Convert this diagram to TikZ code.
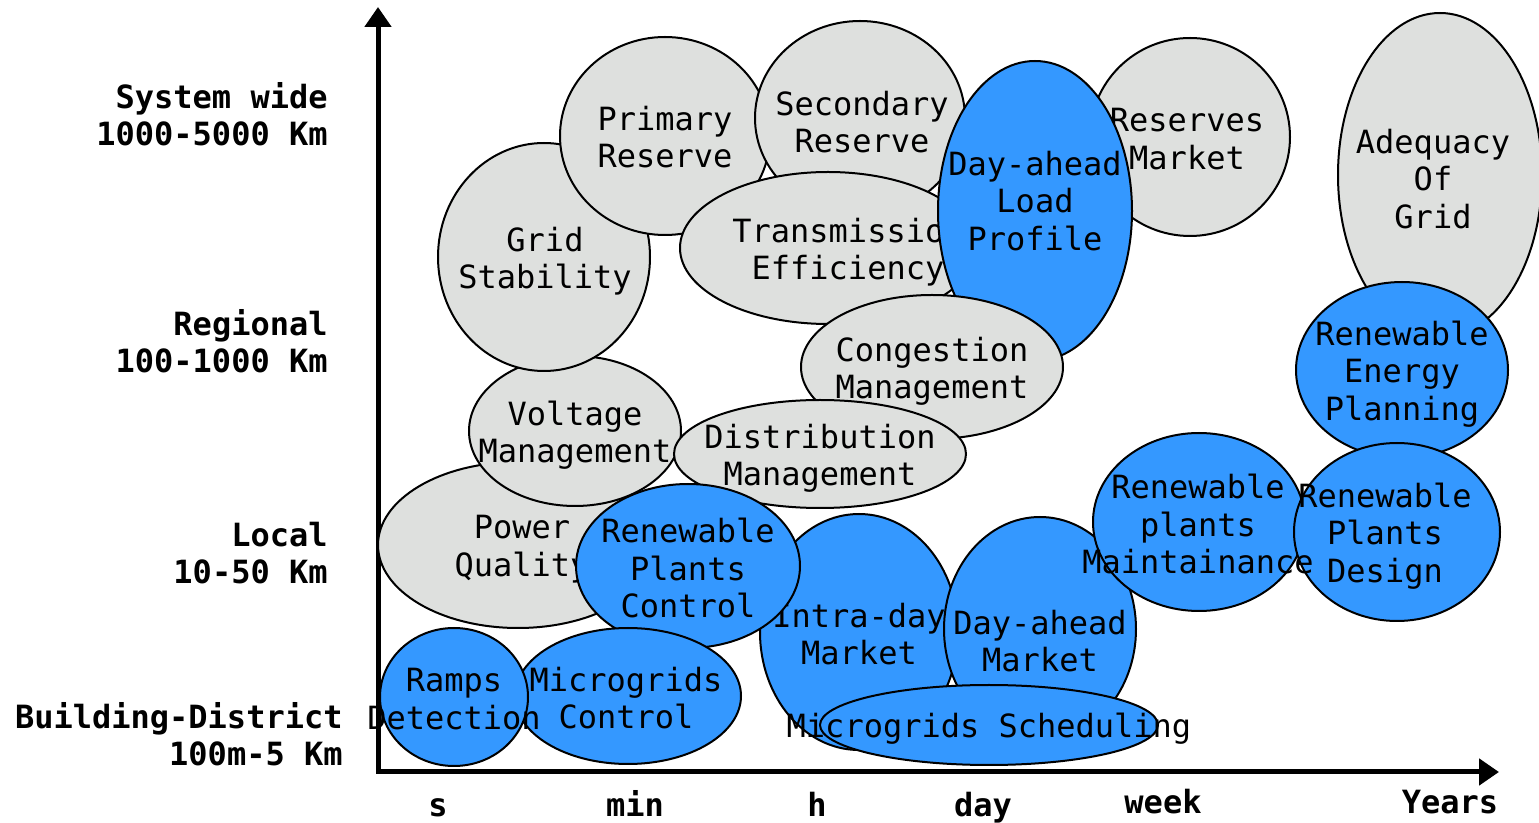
\documentclass[tikz,border=0pt]{standalone}
\usepackage{fontspec}
\setmonofont{DejaVu Sans Mono}
\usetikzlibrary{shapes.geometric,arrows.meta}
\definecolor{bubgray}{RGB}{222,224,222}
\definecolor{bubblue}{RGB}{52,152,255}
\begin{document}
\begin{tikzpicture}[x=0.5pt,y=-0.5pt,
 bub/.style={ellipse, draw=black, line width=1pt, inner sep=0pt},
 gb/.style={bub, fill=bubgray},
 bb/.style={bub, fill=bubblue},
 txt/.style={font=\ttfamily\fontsize{16}{18.7}\selectfont, align=center, inner sep=0pt},
 ax/.style={font=\ttfamily\bfseries\fontsize{16}{18.5}\selectfont, align=right, inner sep=0pt, anchor=east},
 tick/.style={font=\ttfamily\bfseries\fontsize{16}{18.5}\selectfont, inner sep=0pt, anchor=base}]
\useasboundingbox (0,0) rectangle (1539,823);
% axes
\coordinate (Ytop) at (378,7);
\coordinate (O) at (378,772);
\coordinate (Xend) at (1499,772);
\draw[line width=2.5pt, line join=miter, {Triangle[length=10pt,width=13pt]}-{Triangle[length=10pt,width=13pt]}] (Ytop) -- (O) -- (Xend);
% axis labels
\node[ax] (l1) at (328,114) {System wide\\1000-5000 Km};
\node[ax] (l2) at (328,341) {Regional\\100-1000 Km};
\node[ax] (l3) at (328,553) {Local\\10-50 Km};
\node[ax] (l4) at (343,734) {Building-District\\100m-5 Km};
\node[tick] (t1) at (438,817) {s};
\node[tick] (t2) at (635,817) {min};
\node[tick] (t3) at (817,817) {h};
\node[tick] (t4) at (983,817) {day};
\node[tick] (t5) at (1163,814) {week};
\node[tick] (t6) at (1450,814) {Years};
% bubbles
\node[gb, minimum width=140pt, minimum height=83pt] (pqE) at (518,545) {};
\node[txt] (pq) at (522,549) {Power\\Quality};
\node[gb, minimum width=106pt, minimum height=75pt] (vmE) at (575,431) {};
\node[txt] (vm) at (575,435) {Voltage\\Management};
\node[gb, minimum width=106pt, minimum height=114pt] (gsE) at (544,257) {};
\node[txt] (gs) at (545,261) {Grid\\Stability};
\node[gb, minimum width=105pt, minimum height=99pt] (prE) at (665,136) {};
\node[txt] (pr) at (665,137) {Primary\\Reserve};
\node[gb, minimum width=105pt, minimum height=97pt] (srE) at (860,118) {};
\node[txt] (sr) at (862,122) {Secondary\\Reserve};
\node[gb, minimum width=100pt, minimum height=99pt] (rmE) at (1190,137) {};
\node[txt] (rm) at (1187,139) {Reserves\\Market};
\node[gb, minimum width=148pt, minimum height=76pt] (teE) at (828,248) {};
\node[txt] (te) at (848,252) {Transmission\\Efficiency};
\node[bb, minimum width=97pt, minimum height=150pt] (dlE) at (1035,211) {};
\node[txt] (dl) at (1035,201) {Day-ahead\\Load\\Profile};
\node[gb, minimum width=131pt, minimum height=72pt] (cmE) at (932,367) {};
\node[txt] (cm) at (932,371) {Congestion\\Management};
\node[gb, minimum width=146pt, minimum height=54pt] (dmE) at (820,454) {};
\node[txt] (dm) at (820,458) {Distribution\\Management};
\node[gb, minimum width=102pt, minimum height=162pt] (agE) at (1440,175) {};
\node[txt] (ag) at (1433,179) {Adequacy\\Of\\Grid};
\node[bb, minimum width=106pt, minimum height=88pt] (reE) at (1402,370) {};
\node[txt] (re) at (1402,374) {Renewable\\Energy\\Planning};
\node[bb, minimum width=99pt, minimum height=118pt] (idE) at (859,632) {};
\node[txt] (id) at (859,634) {Intra-day\\Market};
\node[bb, minimum width=112pt, minimum height=82pt] (rcE) at (688,566) {};
\node[txt] (rc) at (688,568) {Renewable\\Plants\\Control};
\node[bb, minimum width=96pt, minimum height=112pt] (dmkE) at (1040,629) {};
\node[txt] (dmk) at (1040,641) {Day-ahead\\Market};
\node[bb, minimum width=113pt, minimum height=68pt] (mcE) at (628,696) {};
\node[txt] (mc) at (626,698) {Microgrids\\Control};
\node[bb, minimum width=74pt, minimum height=69pt] (rdE) at (454,697) {};
\node[txt] (rd) at (454,699) {Ramps\\Detection};
\node[bb, minimum width=106pt, minimum height=89pt] (pmE) at (1199,522) {};
\node[bb, minimum width=103pt, minimum height=89pt] (pdE) at (1397,532) {};
\node[txt] (pm) at (1198,524) {Renewable\\plants\\Maintainance};
\node[txt] (pd) at (1385,536) {Renewable\\Plants\\Design};
\node[bb, minimum width=169pt, minimum height=40pt] (msE) at (989,725) {};
\node[txt] (ms) at (989,729) {Microgrids Scheduling};
\end{tikzpicture}
\end{document}
